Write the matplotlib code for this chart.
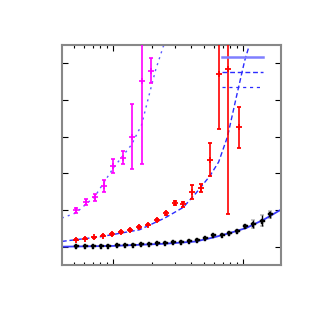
import matplotlib
matplotlib.use("Agg")
import matplotlib.pyplot as plt
from matplotlib.lines import Line2D
from matplotlib.ticker import LogLocator, NullFormatter, FixedLocator

# ---- data ----
black_x = [0.519, 0.609, 0.698, 0.804, 0.920, 1.068, 1.237, 1.433, 1.642, 1.902,
           2.191, 2.512, 2.910, 3.334, 3.843, 4.450, 5.10, 5.91, 6.86, 7.85,
           9.04, 10.36, 12.0, 13.93, 16.14]
black_y = [0.008, 0.02, 0.02, 0.027, 0.027, 0.035, 0.046, 0.054, 0.063, 0.074,
           0.09, 0.11, 0.117, 0.136, 0.163, 0.183, 0.226, 0.308, 0.327, 0.381,
           0.436, 0.553, 0.627, 0.70, 0.886]
black_err = [0.01, 0.01, 0.01, 0.01, 0.01, 0.01, 0.01, 0.01, 0.01, 0.01,
             0.01, 0.01, 0.01, 0.015, 0.015, 0.015, 0.02, 0.02, 0.02, 0.03,
             0.03, 0.05, 0.11, 0.15, 0.1]

red_x = [0.519, 0.609, 0.714, 0.838, 0.982, 1.152, 1.351, 1.585, 1.859, 2.17,
         2.54, 2.98, 3.47, 4.07, 4.75, 5.57, 6.56, 7.61, 9.31]
red_y = [0.191, 0.218, 0.253, 0.300, 0.341, 0.409, 0.450, 0.531, 0.599, 0.717,
         0.908, 1.18, 1.15, 1.50, 1.61, 2.37, 4.72, 4.83, 3.26]
red_err = [0.02, 0.02, 0.02, 0.02, 0.02, 0.03, 0.02, 0.02, 0.02, 0.03,
           0.04, 0.055, 0.07, 0.19, 0.11, 0.45, 1.5, 3.93, 0.56]

mag_x = [0.519, 0.620, 0.727, 0.857, 1.005, 1.188, 1.40, 1.662, 1.95]
mag_y = [0.989, 1.218, 1.343, 1.662, 2.207, 2.425, 3.00, 4.52, 4.80]
mag_err = [0.077, 0.082, 0.095, 0.163, 0.19, 0.17, 0.89, 2.26, 0.35]

# fitted curves
fit_black_x = [0.405, 1.0, 2.5, 4.3, 5.9, 7.9, 10.6, 14.5, 19.6]
fit_black_y = [0.0, 0.02, 0.08, 0.14, 0.25, 0.37, 0.51, 0.74, 1.01]

fit_red_x = [0.405, 0.80, 1.6, 2.5, 3.47, 4.35, 5.57, 6.5, 7.6, 8.9, 10.3, 11.2]
fit_red_y = [0.144, 0.27, 0.46, 0.78, 1.07, 1.46, 1.93, 2.31, 3.0, 4.09, 5.07, 5.5]

fit_mag_x = [0.405, 0.519, 0.727, 1.005, 1.39, 1.66, 1.90, 2.13, 2.44, 2.58]
fit_mag_y = [0.78, 0.92, 1.37, 2.14, 2.78, 3.32, 4.14, 4.82, 5.46, 5.6]

fig = plt.figure(figsize=(3.14, 3.14), dpi=100)
ax = fig.add_axes([0.197, 0.156, 0.698, 0.701])

blue = "#2b2bff"
ax.plot(fit_black_x, fit_black_y, color="#3b3bff", lw=1.3, zorder=2)
ax.plot(fit_red_x, fit_red_y, color=blue, lw=1.0, ls=(0, (3.5, 2)), zorder=2)
ax.plot(fit_mag_x, fit_mag_y, color="#5a5aff", lw=1.0, ls=(0, (1.5, 3)), zorder=2)

ax.errorbar(black_x, black_y, yerr=black_err, fmt="P", color="black", ms=3.6,
            mew=0.3, elinewidth=1.0, capsize=1.5, zorder=3)
ax.errorbar(red_x, red_y, yerr=red_err, fmt="+", color="#ff0000", ms=4.0,
            mew=1.3, elinewidth=1.2, capsize=1.5, zorder=3)
ax.errorbar(mag_x, mag_y, yerr=mag_err, fmt="+", color="#ff00ff", ms=4.0,
            mew=1.2, elinewidth=1.2, capsize=1.5, zorder=3)

ax.set_xscale("log")
ax.set_xlim(0.405, 19.6)
ax.set_ylim(-0.5, 5.5)
ax.yaxis.set_major_locator(FixedLocator([0, 1, 2, 3, 4, 5]))
ax.xaxis.set_major_locator(LogLocator(base=10))
ax.xaxis.set_minor_locator(LogLocator(base=10, subs=range(2, 10)))
ax.xaxis.set_major_formatter(NullFormatter())
ax.xaxis.set_minor_formatter(NullFormatter())
ax.yaxis.set_major_formatter(NullFormatter())
ax.tick_params(which="both", direction="in", top=True, right=True, color="black")
ax.tick_params(which="major", length=4.5, width=0.8)
ax.tick_params(which="minor", length=2.5, width=0.8)
for sp in ax.spines.values():
    sp.set_color("#888888")
    sp.set_linewidth(1.5)

handles = [Line2D([], [], color="#7f7fff", lw=1.8),
           Line2D([], [], color=blue, lw=1.0, ls=(0, (3.5, 2))),
           Line2D([], [], color=blue, lw=0.9, ls=(0, (2.5, 3)))]
ax.legend(handles, ["", "", ""], loc="upper left", frameon=False,
          handlelength=3.7, labelspacing=0.45, borderaxespad=0.0,
          bbox_to_anchor=(0.711, 0.983), fontsize=8, handletextpad=0.5)

fig.savefig("out.png", dpi=100)
